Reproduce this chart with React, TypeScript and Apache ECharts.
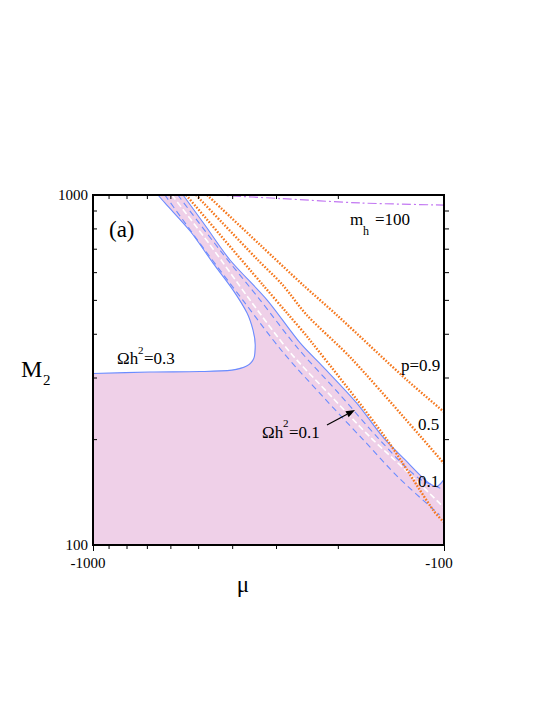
import React, { useEffect, useRef } from "react";
import * as echarts from "echarts";

// axis values
const muTickLabels = [-1000, -100];
const m2TickLabels = [100, 1000];
const muMinorTicks = [-900, -800, -700, -600, -500, -400, -300, -200];
const m2MinorTicks = [200, 300, 400, 500, 600, 700, 800, 900];

// Omega h^2 = 0.3 contour, left branch
const omega03LeftMu = [-653, -624, -529, -455, -399, -364, -350, -345, -348, -364, -402, -496, -688, -1000];
const omega03LeftM2 = [1000, 949, 789, 639, 535, 460, 411, 373, 342, 325, 316, 313, 312, 309];
// Omega h^2 = 0.3 contour, right branch
const omega03RightMu = [-554, -480, -407, -319, -257, -221, -177, -149, -129, -112, -105, -100];
const omega03RightM2 = [1000, 821, 652, 501, 378, 323, 254, 203, 175, 152, 147, 154];
// Omega h^2 = 0.1 contour (dashed), two branches
const omega01UpperMu = [-573, -435, -334, -261, -200, -154, -119, -100];
const omega01UpperM2 = [1000, 696, 501, 365, 272, 202, 156, 144];
const omega01LowerMu = [-624, -480, -371, -288, -221, -170, -134, -103];
const omega01LowerM2 = [1000, 696, 495, 356, 265, 200, 155, 122];
// white dashed line
const whiteMu = [-596, -464, -357, -275, -211, -162, -129, -100];
const whiteM2 = [1000, 720, 501, 356, 268, 203, 164, 128];
// p contours (orange dotted)
const p01Mu = [-543, -328, -280, -241, -147, -107.5, -100];
const p01M2 = [1000, 553, 460, 385, 203, 126, 116];
const p05Mu = [-509, -339, -288, -246, -182, -100];
const p05M2 = [1000, 652, 553, 454, 338, 171];
const p09Mu = [-473, -334, -252, -202, -127.5, -100];
const p09M2 = [1000, 720, 553, 454, 296, 240];
// m_h = 100 (dash-dot)
const mhMu = [-449, -293, -173.5, -100];
const mhM2 = [1000, 977, 949, 936];

const FONT = "'Liberation Serif', 'DejaVu Serif', serif";
const BLUE = "#6a8cff";
const ORANGE = "#f5781e";
const PINK = "#efd0e8";

const zip = (mu: number[], m2: number[]) => mu.map((m, i) => [Math.abs(m), m2[i]]);

function lineSeries(mu: number[], m2: number[], color: string, width: number, type: any) {
  return {
    type: "line",
    data: zip(mu, m2),
    showSymbol: false,
    symbol: "none",
    smooth: 0.3,
    lineStyle: { color, width, type },
    silent: true,
    z: 3,
  };
}

export default function App() {
  const ref = useRef<HTMLDivElement>(null);
  useEffect(() => {
    if (!ref.current) return;
    const chart = echarts.init(ref.current, null, { renderer: "svg" });

    const left = zip(omega03LeftMu, omega03LeftM2);
    const right = zip(omega03RightMu, omega03RightM2);
    const poly = [[1000, 100], ...left.slice().reverse(), ...right, [100, 100]];

    const txt = (x: number, y: number, text: string, size: number, extra: any = {}) => ({
      type: "text",
      x,
      y,
      z: 100,
      style: { text, fontSize: size, fontFamily: FONT, fill: "#000", verticalAlign: "middle", align: "left", ...extra },
    });

    // arrow geometry
    const tip = [355, 410];
    const tail = [327, 425];
    const dx = tip[0] - tail[0], dy = tip[1] - tail[1];
    const len = Math.hypot(dx, dy);
    const ux = dx / len, uy = dy / len;
    const bx = tip[0] - 9 * ux, by = tip[1] - 9 * uy;
    const px = -uy * 3.5, py = ux * 3.5;

    chart.setOption({
      animation: false,
      backgroundColor: "#fff",
      grid: { left: 93, top: 195, width: 351, height: 350, show: true, borderColor: "#000", borderWidth: 2, backgroundColor: "transparent", z: 10 },
      xAxis: {
        type: "log",
        logBase: 10,
        min: Math.abs(muTickLabels[1]),
        max: Math.abs(muTickLabels[0]),
        inverse: true,
        axisLine: { show: true, lineStyle: { color: "#000", width: 2 } },
        axisTick: { show: true, inside: false, length: 6, lineStyle: { color: "#000", width: 1 } },
        axisLabel: { formatter: (v: number) => "-" + String(v), fontSize: 15, fontFamily: FONT, color: "#000", margin: 10, padding: [0, 10, 0, 0] },
        splitLine: { show: false },
        minorTick: { show: false },
        z: 10,
      },
      yAxis: {
        type: "log",
        logBase: 10,
        min: m2TickLabels[0],
        max: m2TickLabels[1],
        axisLine: { show: true, lineStyle: { color: "#000", width: 2 } },
        axisTick: { show: false },
        axisLabel: { formatter: (v: number) => String(v), fontSize: 15, fontFamily: FONT, color: "#000", margin: 5 },
        splitLine: { show: false },
        z: 10,
      },
      series: [
        {
          type: "custom",
          silent: true,
          clip: true,
          z: 1,
          data: [[1000, 1000]],
          renderItem: (_p: any, api: any) => ({
            type: "polygon",
            shape: { points: poly.map((q) => api.coord(q)) },
            style: { fill: PINK, stroke: "none" },
          }),
        },
        lineSeries(whiteMu, whiteM2, "#ffffff", 1.6, [6, 3]),
        lineSeries(omega01LowerMu, omega01LowerM2, BLUE, 1.1, [6, 4]),
        lineSeries(omega01UpperMu, omega01UpperM2, BLUE, 1.1, [6, 4]),
        lineSeries(omega03LeftMu, omega03LeftM2, BLUE, 1.1, "solid"),
        lineSeries(omega03RightMu, omega03RightM2, BLUE, 1.1, "solid"),
        lineSeries(p01Mu, p01M2, ORANGE, 2.4, [1.6, 1.6]),
        lineSeries(p05Mu, p05M2, ORANGE, 2.4, [1.6, 1.6]),
        lineSeries(p09Mu, p09M2, ORANGE, 2.4, [1.6, 1.6]),
        lineSeries(mhMu, mhM2, "#c277f2", 1.2, [9, 3, 2, 3]),
        {
          type: "custom",
          silent: true,
          clip: false,
          z: 12,
          data: muMinorTicks.map((v) => [Math.abs(v), 100]),
          renderItem: (_p: any, api: any) => {
            const v = api.value(0);
            const b = api.coord([v, 100]);
            const t = api.coord([v, 1000]);
            return {
              type: "group",
              children: [
                { type: "line", shape: { x1: b[0], y1: b[1], x2: b[0], y2: b[1] + 4 }, style: { stroke: "#000", lineWidth: 1 } },
                { type: "line", shape: { x1: t[0], y1: t[1], x2: t[0], y2: t[1] + 4 }, style: { stroke: "#000", lineWidth: 1 } },
              ],
            };
          },
        },
        {
          type: "custom",
          silent: true,
          clip: false,
          z: 12,
          data: m2MinorTicks.map((v) => [1000, v]),
          renderItem: (_p: any, api: any) => {
            const v = api.value(1);
            const l = api.coord([1000, v]);
            const r = api.coord([100, v]);
            return {
              type: "group",
              children: [
                { type: "line", shape: { x1: l[0], y1: l[1], x2: l[0] + 4, y2: l[1] }, style: { stroke: "#000", lineWidth: 1 } },
                { type: "line", shape: { x1: r[0], y1: r[1], x2: r[0] + 5, y2: r[1] }, style: { stroke: "#000", lineWidth: 1 } },
              ],
            };
          },
        },
      ],
      graphic: [
        txt(109, 229, "(a)", 23),
        txt(350, 219, "m", 17),
        txt(363, 231, "h", 12),
        txt(375, 219, "=100", 17),
        txt(117, 358, "Ωh", 17),
        txt(138, 350, "2", 11),
        txt(144, 358, "=0.3", 17),
        txt(262, 432, "Ωh", 17),
        txt(283, 423, "2", 11),
        txt(289, 432, "=0.1", 17),
        txt(401, 365, "p=0.9", 17),
        txt(418, 424, "0.5", 17),
        txt(418, 481, "0.1", 17),
        txt(243, 584, "μ", 23, { align: "center" }),
        txt(21, 369, "M", 24),
        txt(43, 380, "2", 15),
        { type: "line", z: 100, shape: { x1: tail[0], y1: tail[1], x2: bx, y2: by }, style: { stroke: "#000", lineWidth: 1.2 } },
        {
          type: "polygon",
          z: 100,
          shape: { points: [[tip[0], tip[1]], [bx + px, by + py], [bx - px, by - py]] },
          style: { fill: "#000" },
        },
      ],
    });
    return () => chart.dispose();
  }, []);
  return <div ref={ref} style={{ position: "absolute", left: 0, top: 0, width: 545, height: 725 }} />;
}
